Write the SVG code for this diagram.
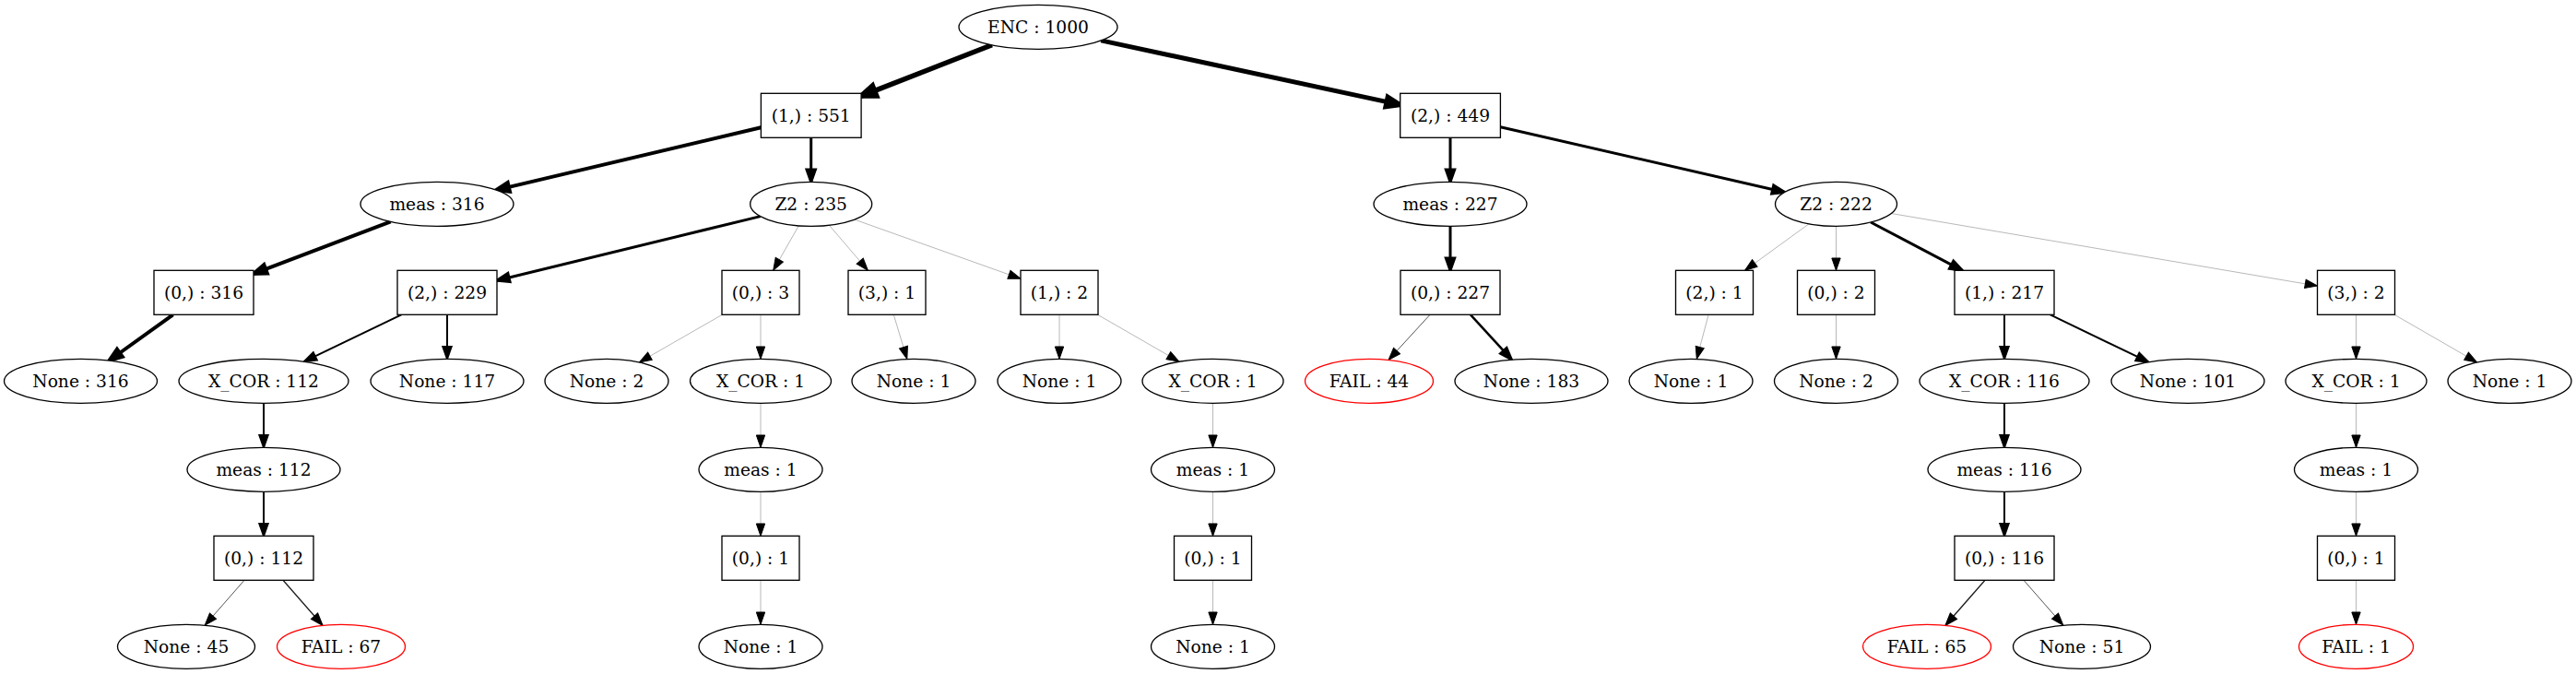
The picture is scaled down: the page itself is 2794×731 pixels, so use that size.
<svg xmlns="http://www.w3.org/2000/svg" width="2794" height="731" viewBox="0 0 2794 731">
<style>
.n ellipse, .n rect { fill: #ffffff; stroke: #000000; stroke-width: 1.33; }
.n.fail ellipse { stroke: #ff0000; }
text { font-family: "DejaVu Serif", "Liberation Serif", serif; font-size: 18.67px; text-anchor: middle; fill: #000000; }
.e line { fill: none; stroke-linecap: butt; }
.k55 { stroke: #000; stroke-width: 5.5; }
.k5 { stroke: #000; stroke-width: 5; }
.k4 { stroke: #000; stroke-width: 4; }
.k3 { stroke: #000; stroke-width: 3; }
.k25 { stroke: #000; stroke-width: 2.5; }
.k2 { stroke: #000; stroke-width: 2; }
.k13 { stroke: #1a1a1a; stroke-width: 1.3; }
.kd { stroke: #555555; stroke-width: 1; }
.kl { stroke: #b8b8b8; stroke-width: 1; }
</style>
<defs>
<marker id="a1" markerUnits="userSpaceOnUse" refX="13.33" refY="0" orient="auto" overflow="visible" markerWidth="20" markerHeight="20"><path d="M0,-4.67L13.33,0L0,4.67Z" fill="#000" stroke="#000" stroke-width="1"/></marker>
<marker id="a13" markerUnits="userSpaceOnUse" refX="13.33" refY="0" orient="auto" overflow="visible" markerWidth="20" markerHeight="20"><path d="M0,-4.67L13.33,0L0,4.67Z" fill="#000" stroke="#000" stroke-width="1.3"/></marker>
<marker id="a2" markerUnits="userSpaceOnUse" refX="13.33" refY="0" orient="auto" overflow="visible" markerWidth="20" markerHeight="20"><path d="M0,-4.67L13.33,0L0,4.67Z" fill="#000" stroke="#000" stroke-width="2"/></marker>
<marker id="a25" markerUnits="userSpaceOnUse" refX="13.33" refY="0" orient="auto" overflow="visible" markerWidth="20" markerHeight="20"><path d="M0,-4.67L13.33,0L0,4.67Z" fill="#000" stroke="#000" stroke-width="2.5"/></marker>
<marker id="a3" markerUnits="userSpaceOnUse" refX="13.33" refY="0" orient="auto" overflow="visible" markerWidth="20" markerHeight="20"><path d="M0,-4.67L13.33,0L0,4.67Z" fill="#000" stroke="#000" stroke-width="3"/></marker>
<marker id="a4" markerUnits="userSpaceOnUse" refX="14" refY="0" orient="auto" overflow="visible" markerWidth="20" markerHeight="20"><path d="M0,-5L14,0L0,5Z" fill="#000" stroke="#000" stroke-width="4"/></marker>
<marker id="a5" markerUnits="userSpaceOnUse" refX="15" refY="0" orient="auto" overflow="visible" markerWidth="20" markerHeight="20"><path d="M0,-5.5L15,0L0,5.5Z" fill="#000" stroke="#000" stroke-width="5"/></marker>
<marker id="a55" markerUnits="userSpaceOnUse" refX="15.5" refY="0" orient="auto" overflow="visible" markerWidth="20" markerHeight="20"><path d="M0,-6L15.5,0L0,6Z" fill="#000" stroke="#000" stroke-width="5.5"/></marker>
</defs>
<rect x="0" y="0" width="2794" height="731" fill="#ffffff"/>
<g id="edges" class="e">
<line class="k55" marker-end="url(#a55)" x1="1075.9" y1="48.8" x2="934.1" y2="104.1"/>
<line class="k5" marker-end="url(#a5)" x1="1194.2" y1="43.9" x2="1518.7" y2="113.6"/>
<line class="k4" marker-end="url(#a4)" x1="825.4" y1="138.2" x2="538.2" y2="206.1"/>
<line class="k3" marker-end="url(#a3)" x1="879.7" y1="149.3" x2="879.7" y2="197.3"/>
<line class="k4" marker-end="url(#a4)" x1="423.7" y1="240.4" x2="275" y2="296.8"/>
<line class="k4" marker-end="url(#a4)" x1="187.6" y1="341.3" x2="118.5" y2="391"/>
<line class="k3" marker-end="url(#a3)" x1="824.8" y1="234.6" x2="539" y2="304.2"/>
<line class="kl" marker-end="url(#a1)" x1="866.3" y1="244.8" x2="838.7" y2="293.3"/>
<line class="kl" marker-end="url(#a1)" x1="899.3" y1="244.2" x2="941.4" y2="293.3"/>
<line class="kl" marker-end="url(#a1)" x1="926.8" y1="238.1" x2="1107" y2="302.3"/>
<line class="k2" marker-end="url(#a2)" x1="435.3" y1="341.3" x2="329.8" y2="392.2"/>
<line class="k2" marker-end="url(#a2)" x1="485" y1="341.3" x2="485" y2="389.3"/>
<line class="kl" marker-end="url(#a1)" x1="783.3" y1="341.3" x2="693.4" y2="392.9"/>
<line class="kl" marker-end="url(#a1)" x1="825" y1="341.3" x2="825" y2="389.3"/>
<line class="kl" marker-end="url(#a1)" x1="969.3" y1="341.3" x2="983.8" y2="389.4"/>
<line class="kl" marker-end="url(#a1)" x1="1149" y1="341.3" x2="1149" y2="389.3"/>
<line class="kl" marker-end="url(#a1)" x1="1190.6" y1="341.3" x2="1278.9" y2="392.2"/>
<line class="k2" marker-end="url(#a2)" x1="286" y1="437.3" x2="286" y2="485.3"/>
<line class="k2" marker-end="url(#a2)" x1="286" y1="533.3" x2="286" y2="581.3"/>
<line class="kd" marker-end="url(#a1)" x1="265" y1="629.3" x2="222.2" y2="678.2"/>
<line class="k13" marker-end="url(#a13)" x1="307" y1="629.3" x2="349.9" y2="678.3"/>
<line class="kl" marker-end="url(#a1)" x1="825" y1="437.3" x2="825" y2="485.3"/>
<line class="kl" marker-end="url(#a1)" x1="825" y1="533.3" x2="825" y2="581.3"/>
<line class="kl" marker-end="url(#a1)" x1="825" y1="629.3" x2="825" y2="677.3"/>
<line class="kl" marker-end="url(#a1)" x1="1315.5" y1="437.3" x2="1315.5" y2="485.3"/>
<line class="kl" marker-end="url(#a1)" x1="1315.5" y1="533.3" x2="1315.5" y2="581.3"/>
<line class="kl" marker-end="url(#a1)" x1="1315.5" y1="629.3" x2="1315.5" y2="677.3"/>
<line class="k3" marker-end="url(#a3)" x1="1573" y1="149.3" x2="1573" y2="197.3"/>
<line class="k3" marker-end="url(#a3)" x1="1627.4" y1="137.8" x2="1935.7" y2="208.5"/>
<line class="k3" marker-end="url(#a3)" x1="1573" y1="245.3" x2="1573" y2="293.3"/>
<line class="kd" marker-end="url(#a1)" x1="1551" y1="341.3" x2="1506" y2="390.4"/>
<line class="k25" marker-end="url(#a25)" x1="1595" y1="341.3" x2="1639.7" y2="390.1"/>
<line class="kl" marker-end="url(#a1)" x1="1962" y1="242.8" x2="1892.5" y2="293.3"/>
<line class="kl" marker-end="url(#a1)" x1="1991.5" y1="245.3" x2="1991.5" y2="293.3"/>
<line class="k3" marker-end="url(#a3)" x1="2029" y1="241" x2="2128.4" y2="293.3"/>
<line class="kl" marker-end="url(#a1)" x1="2051.3" y1="231.5" x2="2513.5" y2="310.1"/>
<line class="kl" marker-end="url(#a1)" x1="1853.1" y1="341.3" x2="1840.3" y2="389.4"/>
<line class="kl" marker-end="url(#a1)" x1="1991.5" y1="341.3" x2="1991.5" y2="389.3"/>
<line class="k2" marker-end="url(#a2)" x1="2174" y1="341.3" x2="2174" y2="389.3"/>
<line class="k2" marker-end="url(#a2)" x1="2223.8" y1="341.3" x2="2330.3" y2="392.7"/>
<line class="kl" marker-end="url(#a1)" x1="2555.5" y1="341.3" x2="2555.5" y2="389.3"/>
<line class="kl" marker-end="url(#a1)" x1="2597.1" y1="341.3" x2="2686.6" y2="392.9"/>
<line class="k2" marker-end="url(#a2)" x1="2174" y1="437.3" x2="2174" y2="485.3"/>
<line class="k2" marker-end="url(#a2)" x1="2174" y1="533.3" x2="2174" y2="581.3"/>
<line class="k13" marker-end="url(#a13)" x1="2153" y1="629.3" x2="2110.1" y2="678.3"/>
<line class="kd" marker-end="url(#a1)" x1="2195" y1="629.3" x2="2237.8" y2="678.2"/>
<line class="kl" marker-end="url(#a1)" x1="2555.5" y1="437.3" x2="2555.5" y2="485.3"/>
<line class="kl" marker-end="url(#a1)" x1="2555.5" y1="533.3" x2="2555.5" y2="581.3"/>
<line class="kl" marker-end="url(#a1)" x1="2555.5" y1="629.3" x2="2555.5" y2="677.3"/>
</g>
<g id="n0" class="n"><ellipse cx="1126" cy="29.3" rx="86" ry="24"/><text x="1126" y="35.8">ENC : 1000</text></g>
<g id="n1" class="n"><rect x="825.4" y="101.3" width="108.7" height="48"/><text x="879.7" y="131.8">(1,) : 551</text></g>
<g id="n2" class="n"><rect x="1518.7" y="101.3" width="108.7" height="48"/><text x="1573" y="131.8">(2,) : 449</text></g>
<g id="n3" class="n"><ellipse cx="474" cy="221.3" rx="83" ry="24"/><text x="474" y="227.8">meas : 316</text></g>
<g id="n4" class="n"><ellipse cx="879.7" cy="221.3" rx="66" ry="24"/><text x="879.7" y="227.8">Z2 : 235</text></g>
<g id="n5" class="n"><ellipse cx="1573" cy="221.3" rx="83" ry="24"/><text x="1573" y="227.8">meas : 227</text></g>
<g id="n6" class="n"><ellipse cx="1991.5" cy="221.3" rx="66" ry="24"/><text x="1991.5" y="227.8">Z2 : 222</text></g>
<g id="n7" class="n"><rect x="167" y="293.3" width="108" height="48"/><text x="221" y="323.8">(0,) : 316</text></g>
<g id="n8" class="n"><rect x="431" y="293.3" width="108" height="48"/><text x="485" y="323.8">(2,) : 229</text></g>
<g id="n9" class="n"><rect x="783" y="293.3" width="84" height="48"/><text x="825" y="323.8">(0,) : 3</text></g>
<g id="n10" class="n"><rect x="920" y="293.3" width="84" height="48"/><text x="962" y="323.8">(3,) : 1</text></g>
<g id="n11" class="n"><rect x="1107" y="293.3" width="84" height="48"/><text x="1149" y="323.8">(1,) : 2</text></g>
<g id="n12" class="n"><rect x="1519" y="293.3" width="108" height="48"/><text x="1573" y="323.8">(0,) : 227</text></g>
<g id="n13" class="n"><rect x="1817.5" y="293.3" width="84" height="48"/><text x="1859.5" y="323.8">(2,) : 1</text></g>
<g id="n14" class="n"><rect x="1949.5" y="293.3" width="84" height="48"/><text x="1991.5" y="323.8">(0,) : 2</text></g>
<g id="n15" class="n"><rect x="2120" y="293.3" width="108" height="48"/><text x="2174" y="323.8">(1,) : 217</text></g>
<g id="n16" class="n"><rect x="2513.5" y="293.3" width="84" height="48"/><text x="2555.5" y="323.8">(3,) : 2</text></g>
<g id="n17" class="n"><ellipse cx="87.5" cy="413.3" rx="83" ry="24"/><text x="87.5" y="419.8">None : 316</text></g>
<g id="n18" class="n"><ellipse cx="286" cy="413.3" rx="92" ry="24"/><text x="286" y="419.8">X_COR : 112</text></g>
<g id="n19" class="n"><ellipse cx="485" cy="413.3" rx="83" ry="24"/><text x="485" y="419.8">None : 117</text></g>
<g id="n20" class="n"><ellipse cx="658" cy="413.3" rx="67" ry="24"/><text x="658" y="419.8">None : 2</text></g>
<g id="n21" class="n"><ellipse cx="825" cy="413.3" rx="76.5" ry="24"/><text x="825" y="419.8">X_COR : 1</text></g>
<g id="n22" class="n"><ellipse cx="991" cy="413.3" rx="67" ry="24"/><text x="991" y="419.8">None : 1</text></g>
<g id="n23" class="n"><ellipse cx="1149" cy="413.3" rx="67" ry="24"/><text x="1149" y="419.8">None : 1</text></g>
<g id="n24" class="n"><ellipse cx="1315.5" cy="413.3" rx="76.5" ry="24"/><text x="1315.5" y="419.8">X_COR : 1</text></g>
<g id="n25" class="n fail"><ellipse cx="1485" cy="413.3" rx="69.5" ry="24"/><text x="1485" y="419.8">FAIL : 44</text></g>
<g id="n26" class="n"><ellipse cx="1661" cy="413.3" rx="83" ry="24"/><text x="1661" y="419.8">None : 183</text></g>
<g id="n27" class="n"><ellipse cx="1834" cy="413.3" rx="67" ry="24"/><text x="1834" y="419.8">None : 1</text></g>
<g id="n28" class="n"><ellipse cx="1991.5" cy="413.3" rx="67" ry="24"/><text x="1991.5" y="419.8">None : 2</text></g>
<g id="n29" class="n"><ellipse cx="2174" cy="413.3" rx="92" ry="24"/><text x="2174" y="419.8">X_COR : 116</text></g>
<g id="n30" class="n"><ellipse cx="2373" cy="413.3" rx="83" ry="24"/><text x="2373" y="419.8">None : 101</text></g>
<g id="n31" class="n"><ellipse cx="2555.5" cy="413.3" rx="76.5" ry="24"/><text x="2555.5" y="419.8">X_COR : 1</text></g>
<g id="n32" class="n"><ellipse cx="2722" cy="413.3" rx="67" ry="24"/><text x="2722" y="419.8">None : 1</text></g>
<g id="n33" class="n"><ellipse cx="286" cy="509.3" rx="83" ry="24"/><text x="286" y="515.8">meas : 112</text></g>
<g id="n34" class="n"><ellipse cx="825" cy="509.3" rx="67" ry="24"/><text x="825" y="515.8">meas : 1</text></g>
<g id="n35" class="n"><ellipse cx="1315.5" cy="509.3" rx="67" ry="24"/><text x="1315.5" y="515.8">meas : 1</text></g>
<g id="n36" class="n"><ellipse cx="2174" cy="509.3" rx="83" ry="24"/><text x="2174" y="515.8">meas : 116</text></g>
<g id="n37" class="n"><ellipse cx="2555.5" cy="509.3" rx="67" ry="24"/><text x="2555.5" y="515.8">meas : 1</text></g>
<g id="n38" class="n"><rect x="232" y="581.3" width="108" height="48"/><text x="286" y="611.8">(0,) : 112</text></g>
<g id="n39" class="n"><rect x="783" y="581.3" width="84" height="48"/><text x="825" y="611.8">(0,) : 1</text></g>
<g id="n40" class="n"><rect x="1273.5" y="581.3" width="84" height="48"/><text x="1315.5" y="611.8">(0,) : 1</text></g>
<g id="n41" class="n"><rect x="2120" y="581.3" width="108" height="48"/><text x="2174" y="611.8">(0,) : 116</text></g>
<g id="n42" class="n"><rect x="2513.5" y="581.3" width="84" height="48"/><text x="2555.5" y="611.8">(0,) : 1</text></g>
<g id="n43" class="n"><ellipse cx="202" cy="701.3" rx="74.5" ry="24"/><text x="202" y="707.8">None : 45</text></g>
<g id="n44" class="n fail"><ellipse cx="370" cy="701.3" rx="69.5" ry="24"/><text x="370" y="707.8">FAIL : 67</text></g>
<g id="n45" class="n"><ellipse cx="825" cy="701.3" rx="67" ry="24"/><text x="825" y="707.8">None : 1</text></g>
<g id="n46" class="n"><ellipse cx="1315.5" cy="701.3" rx="67" ry="24"/><text x="1315.5" y="707.8">None : 1</text></g>
<g id="n47" class="n fail"><ellipse cx="2090" cy="701.3" rx="69.5" ry="24"/><text x="2090" y="707.8">FAIL : 65</text></g>
<g id="n48" class="n"><ellipse cx="2258" cy="701.3" rx="74.5" ry="24"/><text x="2258" y="707.8">None : 51</text></g>
<g id="n49" class="n fail"><ellipse cx="2555.5" cy="701.3" rx="62" ry="24"/><text x="2555.5" y="707.8">FAIL : 1</text></g>
</svg>
